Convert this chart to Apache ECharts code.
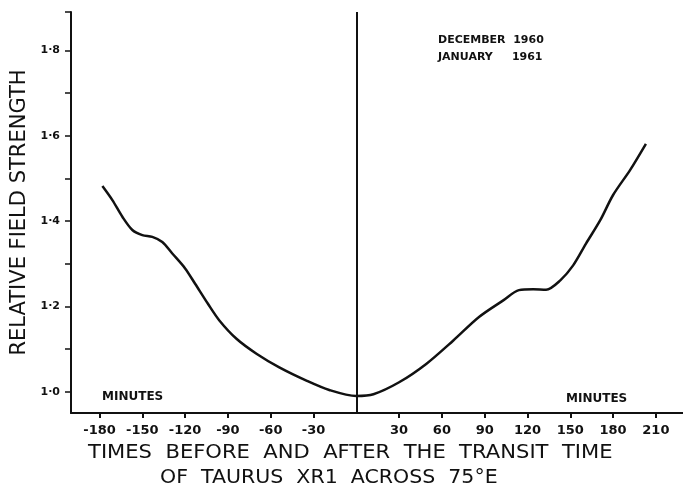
<!DOCTYPE html>
<html>
<head>
<meta charset="utf-8">
<script src="https://cdn.jsdelivr.net/npm/echarts@6/dist/echarts.min.js"></script>
<style>
  html, body { margin: 0; padding: 0; background: #fff; }
  #chart { width: 683px; height: 492px; }
</style>
</head>
<body>
<div id="chart"></div>
<script>
// minutes before / after transit
var minutes = [-178, -171, -164, -157, -150, -143, -136, -129, -120, -113, -104, -96, -84, -70, -54, -35, -19, 0,
               12, 30, 49, 68, 86, 103, 114, 124, 133, 143, 152, 161, 171, 180, 192, 203];
// relative field strength
var strength = [1.482, 1.449, 1.41, 1.379, 1.367, 1.363, 1.351, 1.324, 1.289, 1.253, 1.206, 1.167, 1.124, 1.089, 1.057, 1.026, 1.004, 0.99,
                0.994, 1.022, 1.065, 1.12, 1.175, 1.214, 1.238, 1.24, 1.239, 1.261, 1.296, 1.347, 1.402, 1.461, 1.52, 1.581];

var xTicks = [-180, -150, -120, -90, -60, -30, 30, 60, 90, 120, 150, 180, 210];
var yLabels = [1.0, 1.2, 1.4, 1.6, 1.8];
var yTicks = [1.0, 1.1, 1.2, 1.3, 1.4, 1.5, 1.6, 1.7, 1.8, 1.89];

var pts = [];
for (var i = 0; i < minutes.length; i++) {
    pts.push([minutes[i], strength[i]]);
}

var ink = '#111';
var font = 'DejaVu Sans';

var chart = echarts.init(document.getElementById('chart'));
var option = {
    backgroundColor: '#fff',
    animation: false,
    grid: { left: 71, right: 0, top: 12, bottom: 79, outerBoundsMode: 'none', containLabel: false },
    xAxis: {
        type: 'value',
        min: -200,
        max: 229,
        axisLine: { onZero: false, lineStyle: { color: ink, width: 2 } },
        axisTick: { customValues: xTicks, length: 5, lineStyle: { color: ink, width: 2 } },
        axisLabel: {
            customValues: xTicks,
            margin: 11,
            color: ink,
            fontFamily: font,
            fontSize: 13,
            fontWeight: 'bold'
        },
        splitLine: { show: false }
    },
    yAxis: {
        type: 'value',
        min: 0.95,
        max: 1.89,
        name: 'RELATIVE FIELD STRENGTH',
        nameLocation: 'middle',
        nameRotate: 90,
        nameGap: 41,
        nameTextStyle: { color: ink, fontFamily: font, fontSize: 21 },
        axisLine: { onZero: false, lineStyle: { color: ink, width: 2 } },
        axisTick: { customValues: yTicks, length: 6, lineStyle: { color: ink, width: 1.5 } },
        axisLabel: {
            customValues: yLabels,
            margin: 11,
            color: ink,
            fontFamily: font,
            fontSize: 11,
            fontWeight: 'bold',
            formatter: function (v) { return v.toFixed(1).replace('.', '·'); }
        },
        splitLine: { show: false }
    },
    series: [
        {
            type: 'line',
            data: pts,
            smooth: 0.3,
            symbol: 'none',
            lineStyle: { color: ink, width: 2.5 },
            markLine: {
                silent: true,
                symbol: 'none',
                label: { show: false },
                lineStyle: { color: ink, width: 2, type: 'solid' },
                data: [{ xAxis: 0 }]
            }
        }
    ],
    graphic: [
        { type: 'text', left: 102, top: 391, style: { text: 'MINUTES', fill: ink, font: 'bold 12px DejaVu Sans' } },
        { type: 'text', left: 566, top: 393, style: { text: 'MINUTES', fill: ink, font: 'bold 12px DejaVu Sans' } },
        { type: 'text', left: 438, top: 35, style: { text: 'DECEMBER  1960', fill: ink, font: 'bold 11px DejaVu Sans' } },
        { type: 'text', left: 438, top: 52, style: { text: 'JANUARY     1961', fill: ink, font: 'bold 11px DejaVu Sans' } },
        { type: 'text', x: 88, y: 444, scaleX: 1.11, style: { text: 'TIMES  BEFORE  AND  AFTER  THE  TRANSIT  TIME', fill: ink, font: '19px DejaVu Sans' } },
        { type: 'text', x: 160, y: 469, scaleX: 1.08, style: { text: 'OF  TAURUS  XR1  ACROSS  75°E', fill: ink, font: '19px DejaVu Sans' } }
    ]
};
chart.setOption(option);
</script>
</body>
</html>
